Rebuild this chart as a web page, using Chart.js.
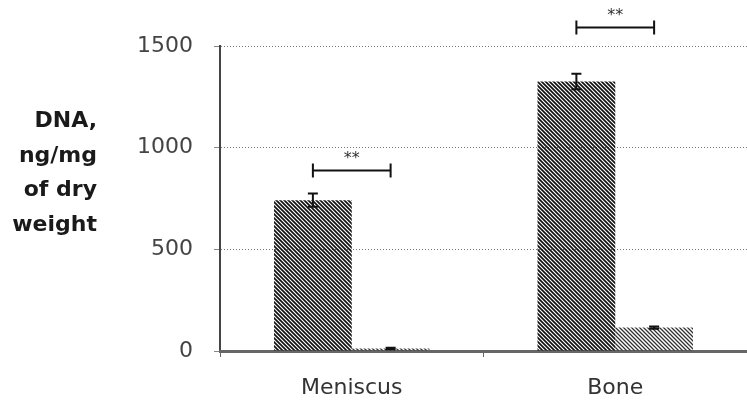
<!DOCTYPE html>
<html>
<head>
<meta charset="utf-8">
<script src="https://cdn.jsdelivr.net/npm/chart.js@4"></script>
<style>
  html, body { margin: 0; padding: 0; background: #fff; }
  #wrap { width: 747px; height: 405px; }
</style>
</head>
<body>
<div id="wrap"><canvas id="dnaChart" width="747" height="405"></canvas></div>
<script>
// ===== Data =====
const categories = ['Meniscus', 'Bone'];
const seriesA = [742, 1325];
const seriesAErr = [32, 38];
const seriesB = [12, 115];
const seriesBErr = [4, 6];
const yTicks = [0, 500, 1000, 1500];
const sigLevels = [890, 1595];
const sigLabels = ['**', '**'];
const yTitle = ['DNA,', 'ng/mg', 'of dry', 'weight'];

// diagonal hatch fill
function hatch(lineWidth, color) {
    const c = document.createElement('canvas');
    c.width = 4; c.height = 4;
    const g = c.getContext('2d');
    g.strokeStyle = color;
    g.lineWidth = lineWidth;
    g.beginPath();
    g.moveTo(-1, -1); g.lineTo(5, 5);
    g.moveTo(-1, 3); g.lineTo(1, 5);
    g.moveTo(3, -1); g.lineTo(5, 1);
    g.stroke();
    return g.createPattern(c, 'repeat');
}

const errors = [seriesAErr, seriesBErr];

const extrasPlugin = {
    id: 'extras',
    afterDatasetsDraw(chart) {
        const ctx = chart.ctx;
        const y = chart.scales.y;
        ctx.save();
        ctx.strokeStyle = '#111';
        ctx.lineWidth = 2;
        // error bars
        chart.data.datasets.forEach((ds, di) => {
            chart.getDatasetMeta(di).data.forEach((bar, i) => {
                const v = ds.data[i], e = errors[di][i];
                const top = y.getPixelForValue(v + e);
                const bot = y.getPixelForValue(v - e);
                ctx.beginPath();
                ctx.moveTo(bar.x, top); ctx.lineTo(bar.x, bot);
                ctx.moveTo(bar.x - 5, top); ctx.lineTo(bar.x + 5, top);
                ctx.moveTo(bar.x - 5, bot); ctx.lineTo(bar.x + 5, bot);
                ctx.stroke();
            });
        });
        ctx.restore();
    },
    afterDraw(chart) {
        const ctx = chart.ctx;
        const y = chart.scales.y;
        const a = chart.getDatasetMeta(0).data;
        const b = chart.getDatasetMeta(1).data;
        ctx.save();
        // significance brackets
        categories.forEach((c, i) => {
            const py = Math.round(y.getPixelForValue(sigLevels[i])) + 0.5;
            ctx.strokeStyle = '#111';
            ctx.lineWidth = 2;
            ctx.beginPath();
            ctx.moveTo(a[i].x, py); ctx.lineTo(b[i].x, py);
            ctx.moveTo(a[i].x, py - 7); ctx.lineTo(a[i].x, py + 7);
            ctx.moveTo(b[i].x, py - 7); ctx.lineTo(b[i].x, py + 7);
            ctx.stroke();
            ctx.fillStyle = '#333';
            ctx.font = '16px "DejaVu Sans"';
            ctx.textAlign = 'center';
            ctx.textBaseline = 'middle';
            ctx.fillText(sigLabels[i], (a[i].x + b[i].x) / 2, py - 12);
        });
        // y axis title, right aligned block on the left
        ctx.fillStyle = '#1a1a1a';
        ctx.font = 'bold 22px "DejaVu Sans"';
        ctx.textAlign = 'right';
        ctx.textBaseline = 'alphabetic';
        yTitle.forEach((t, i) => {
            ctx.fillText(t, 97, 127 + i * 34.5);
        });
        ctx.restore();
    }
};

document.addEventListener("DOMContentLoaded", function() {
    const cvs = document.getElementById('dnaChart');
    new Chart(cvs, {
        type: 'bar',
        data: {
            labels: categories,
            datasets: [{
                data: seriesA,
                backgroundColor: hatch(1.7, '#111'),
                borderWidth: 0,
                categoryPercentage: 0.59,
                barPercentage: 1
            }, {
                data: seriesB,
                backgroundColor: hatch(1.3, '#333'),
                borderWidth: 0,
                categoryPercentage: 0.59,
                barPercentage: 1
            }]
        },
        options: {
            responsive: false,
            animation: false,
            layout: { padding: { left: 136, top: 46, right: 0, bottom: 0 } },
            plugins: {
                legend: { display: false },
                tooltip: { enabled: false }
            },
            scales: {
                y: {
                    min: 0,
                    max: 1500,
                    afterBuildTicks(scale) { scale.ticks = yTicks.map(v => ({ value: v })); },
                    afterFit(scale) { scale.width = 84; },
                    border: { display: true, color: '#444', width: 2, dash: [1, 2] },
                    grid: { color: '#777', lineWidth: 1, tickLength: 6, tickColor: '#888' },
                    ticks: {
                        padding: 21,
                        color: '#444',
                        font: { family: 'DejaVu Sans', size: 22 },
                        callback: v => String(v)
                    }
                },
                x: {
                    afterFit(scale) { scale.height = 54; },
                    border: { display: true, color: '#666', width: 3 },
                    grid: { drawOnChartArea: false, tickLength: 6, color: '#666' },
                    ticks: {
                        padding: 18,
                        color: '#333',
                        font: { family: 'DejaVu Sans', size: 22 }
                    }
                }
            }
        },
        plugins: [extrasPlugin]
    });
});
</script>
</body>
</html>
